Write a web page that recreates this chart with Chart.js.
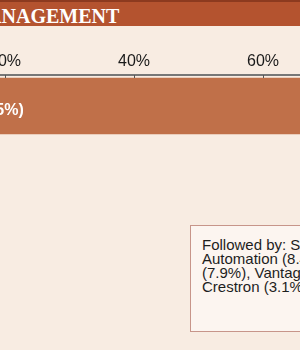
<!DOCTYPE html>
<html>
<head>
<meta charset="utf-8">
<script src="https://cdn.jsdelivr.net/npm/chart.js@4"></script>
<style>
html, body { margin: 0; padding: 0; width: 300px; height: 350px; overflow: hidden; background: #f8ece2; position: relative; }
#header { position: absolute; left: 0; top: 0; width: 300px; height: 26px; background: #b4532f; border-top: 2px solid #8c3a1f; box-sizing: border-box; overflow: hidden; }
#header span { position: absolute; right: 181px; top: 1px; line-height: 22px; font: bold 22px 'Liberation Serif', serif; color: #fff; white-space: nowrap; transform: scaleX(0.91); transform-origin: right center; }
#chartBox { position: absolute; left: -140px; top: 26px; width: 700px; height: 120px; }
#note { position: absolute; left: 190px; top: 225px; width: 220px; height: 107px; box-sizing: border-box; border: 1.5px solid #c7958a; background: #fcf5f0; padding: 12px 0 0 11px; font: 15px 'Liberation Sans', Arial, sans-serif; line-height: 14px; color: #1e1e1e; white-space: nowrap; }
</style>
</head>
<body>
<div id="header"><span id="headerText"></span></div>
<div id="chartBox"><canvas id="shareChart"></canvas></div>
<div id="note"></div>
<script>
// Data
const title = 'LIGHTING MANAGEMENT';
const companies = ['Lutron'];
const shares = [75];
const tickValues = [0, 20, 40, 60, 80, 100];
const noteLines = [
    'Followed by: Savant (9.8%), Home',
    'Automation (8.4%), Control4',
    '(7.9%), Vantage (4.5%),',
    'Crestron (3.1%)'
];

document.getElementById('headerText').textContent = title;
document.getElementById('note').innerHTML = noteLines.join('<br>');

const labelPad = 50;

// bar label + small tick marks under the axis line
const extras = {
    id: 'extras',
    afterDatasetsDraw(chart) {
        const { ctx, chartArea, scales: { x } } = chart;
        const meta = chart.getDatasetMeta(0);
        ctx.save();
        ctx.font = 'bold 16px "Liberation Sans", Arial, sans-serif';
        ctx.fillStyle = '#ffffff';
        ctx.textBaseline = 'alphabetic';
        meta.data.forEach((bar, i) => {
            ctx.fillText(companies[i] + ' (' + shares[i] + '%)', x.getPixelForValue(0) + labelPad, bar.y + 9);
        });
        ctx.strokeStyle = '#555';
        ctx.lineWidth = 1;
        x.ticks.forEach((t, i) => {
            const px = Math.round(x.getPixelForTick(i)) + 0.5;
            ctx.beginPath();
            ctx.moveTo(px, chartArea.top);
            ctx.lineTo(px, chartArea.top + 3);
            ctx.stroke();
        });
        ctx.restore();
    }
};

const ctx = document.getElementById('shareChart').getContext('2d');
const shareChart = new Chart(ctx, {
    type: 'bar',
    data: {
        labels: companies,
        datasets: [{
            data: shares,
            backgroundColor: '#c07049',
            borderWidth: 0,
            barThickness: 56
        }]
    },
    options: {
        indexAxis: 'y',
        responsive: true,
        maintainAspectRatio: false,
        animation: false,
        layout: { padding: { left: 16, right: 39, top: 21.8, bottom: 9 } },
        plugins: {
            legend: { display: false },
            tooltip: { enabled: false }
        },
        scales: {
            x: {
                position: 'top',
                min: tickValues[0],
                max: tickValues[tickValues.length - 1],
                grid: { display: false, drawTicks: false, tickLength: 0 },
                border: { display: true, color: '#777', width: 2 },
                afterBuildTicks: (scale) => {
                    scale.ticks = tickValues.map(v => ({ value: v }));
                },
                ticks: {
                    color: '#1a1a1a',
                    padding: 4,
                    font: { family: "'Liberation Sans', Arial, sans-serif", size: 16 },
                    callback: (v) => v + '%'
                }
            },
            y: { display: false }
        }
    },
    plugins: [extras]
});
</script>
</body>
</html>
